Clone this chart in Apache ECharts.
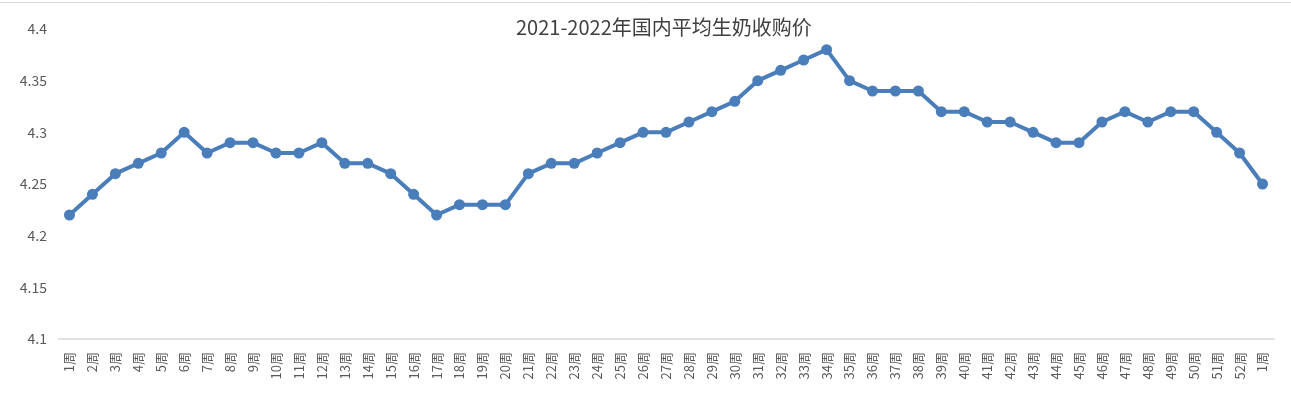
<!DOCTYPE html>
<html>
<head>
<meta charset="utf-8">
<script src="https://cdn.jsdelivr.net/npm/echarts@6/dist/echarts.min.js"></script>
<style>
  html, body { margin: 0; padding: 0; background: #fff; }
  #chart { width: 1291px; height: 398px; }
</style>
</head>
<body>
<div id="chart"></div>
<script>
  // 周次（2021年第1周 ~ 第52周，2022年第1周）
  var weeks = ['1周', '2周', '3周', '4周', '5周', '6周', '7周', '8周', '9周', '10周',
    '11周', '12周', '13周', '14周', '15周', '16周', '17周', '18周', '19周', '20周',
    '21周', '22周', '23周', '24周', '25周', '26周', '27周', '28周', '29周', '30周',
    '31周', '32周', '33周', '34周', '35周', '36周', '37周', '38周', '39周', '40周',
    '41周', '42周', '43周', '44周', '45周', '46周', '47周', '48周', '49周', '50周',
    '51周', '52周', '1周']

  // 平均生奶收购价（元/公斤）
  var prices = [4.22, 4.24, 4.26, 4.27, 4.28, 4.30, 4.28, 4.29, 4.29, 4.28,
    4.28, 4.29, 4.27, 4.27, 4.26, 4.24, 4.22, 4.23, 4.23, 4.23,
    4.26, 4.27, 4.27, 4.28, 4.29, 4.30, 4.30, 4.31, 4.32, 4.33,
    4.35, 4.36, 4.37, 4.38, 4.35, 4.34, 4.34, 4.34, 4.32, 4.32,
    4.31, 4.31, 4.30, 4.29, 4.29, 4.31, 4.32, 4.31, 4.32, 4.32,
    4.30, 4.28, 4.25]

  var chart = echarts.init(document.getElementById('chart'))

  chart.setOption({
    animation: false,
    textStyle: {fontFamily: '"Noto Sans CJK SC", "Noto Sans", sans-serif'},
    title: {
      text: '2021-2022年国内平均生奶收购价',
      left: 516,
      top: 17,
      padding: 0,
      textStyle: {
        color: '#404040',
        fontSize: 20,
        fontWeight: 'normal'
      }
    },
    graphic: [{
      type: 'line',
      shape: {x1: 0, y1: 2.5, x2: 1291, y2: 2.5},
      style: {stroke: '#d9d9d9', lineWidth: 1}
    }],
    grid: {left: 58, right: 17, top: 29, bottom: 59},
    xAxis: {
      type: 'category',
      data: weeks,
      boundaryGap: true,
      axisLine: {lineStyle: {color: '#d9d9d9', width: 1.5}},
      axisTick: {show: false},
      axisLabel: {
        rotate: 90,
        interval: 0,
        color: '#595959',
        fontSize: 13,
        margin: 13
      }
    },
    yAxis: {
      type: 'value',
      min: 4.1,
      max: 4.4,
      interval: 0.05,
      axisLine: {show: false},
      axisTick: {show: false},
      splitLine: {show: false},
      axisLabel: {
        color: '#595959',
        fontSize: 14,
        margin: 11,
        formatter: function (v) { return +v.toFixed(2) + '' }
      }
    },
    series: [{
      type: 'line',
      data: prices,
      symbol: 'circle',
      symbolSize: 11,
      lineStyle: {color: '#4a7ebb', width: 4},
      itemStyle: {color: '#4a7ebb'}
    }]
  })
</script>
</body>
</html>
